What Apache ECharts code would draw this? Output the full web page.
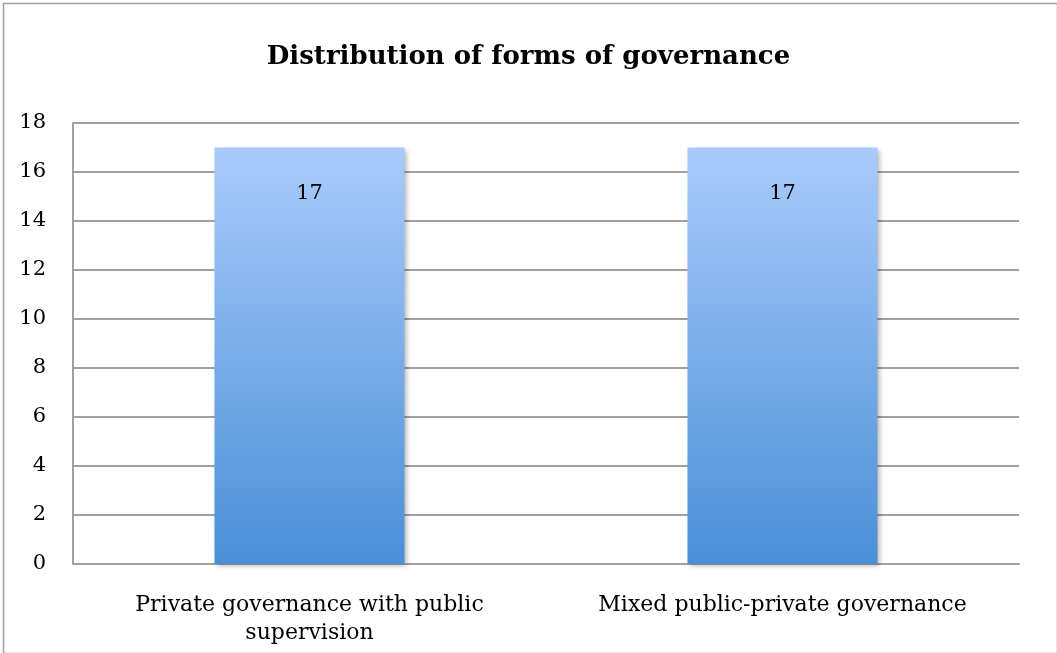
<!DOCTYPE html>
<html>
<head>
<meta charset="utf-8">
<script src="https://cdn.jsdelivr.net/npm/echarts@6/dist/echarts.min.js"></script>
<style>html,body{margin:0;padding:0;background:#fff}#c{width:1057px;height:653px}</style>
</head>
<body>
<div id="c"></div>
<script>
const titleText = "Distribution of forms of governance";
const categories = ["Private governance with public\nsupervision", "Mixed public-private governance"];
const values = [17, 17];
const yTicks = { min: 0, max: 18, interval: 2 };

const FONT = "DejaVu Serif";
const chart = echarts.init(document.getElementById('c'), null, { renderer: 'canvas' });
chart.setOption({
  animation: false,
  backgroundColor: '#fff',
  title: {
    text: titleText, left: 'center', top: 39,
    textStyle: { fontFamily: FONT, fontWeight: 'bold', fontSize: 26, color: '#000' }
  },
  graphic: [{
    type: 'rect', left: 1, top: 1, silent: true,
    shape: { width: 1054, height: 650 },
    style: { fill: 'none', stroke: '#a0a0a0', lineWidth: 1.5 }
  }],
  grid: { left: 73, right: 38, top: 123, bottom: 89 },
  xAxis: {
    type: 'category', data: categories,
    axisLine: { show: true, lineStyle: { color: '#a0a0a0', width: 2 } },
    axisTick: { show: false },
    axisLabel: { fontFamily: FONT, fontSize: 22, color: '#000', margin: 27, lineHeight: 28, interval: 0 }
  },
  yAxis: {
    type: 'value', min: yTicks.min, max: yTicks.max, interval: yTicks.interval,
    axisLine: { show: true, lineStyle: { color: '#a0a0a0', width: 2 } },
    axisTick: { show: false },
    splitLine: { lineStyle: { color: '#a0a0a0', width: 2 } },
    axisLabel: { fontFamily: FONT, fontSize: 21, color: '#000', margin: 27, padding: [6, 0, 0, 0] }
  },
  series: [{
    type: 'bar', data: values, barWidth: 190,
    itemStyle: {
      color: new echarts.graphic.LinearGradient(0, 0, 0, 1, [
        { offset: 0, color: '#a9cbfb' },
        { offset: 1, color: '#4a8fd6' }
      ]),
      shadowColor: 'rgba(0,0,0,0.3)', shadowBlur: 5, shadowOffsetX: 2, shadowOffsetY: 2
    },
    label: {
      show: true, position: 'insideTop', distance: 36,
      fontFamily: FONT, fontSize: 21, color: '#000'
    }
  }]
});
</script>
</body>
</html>
